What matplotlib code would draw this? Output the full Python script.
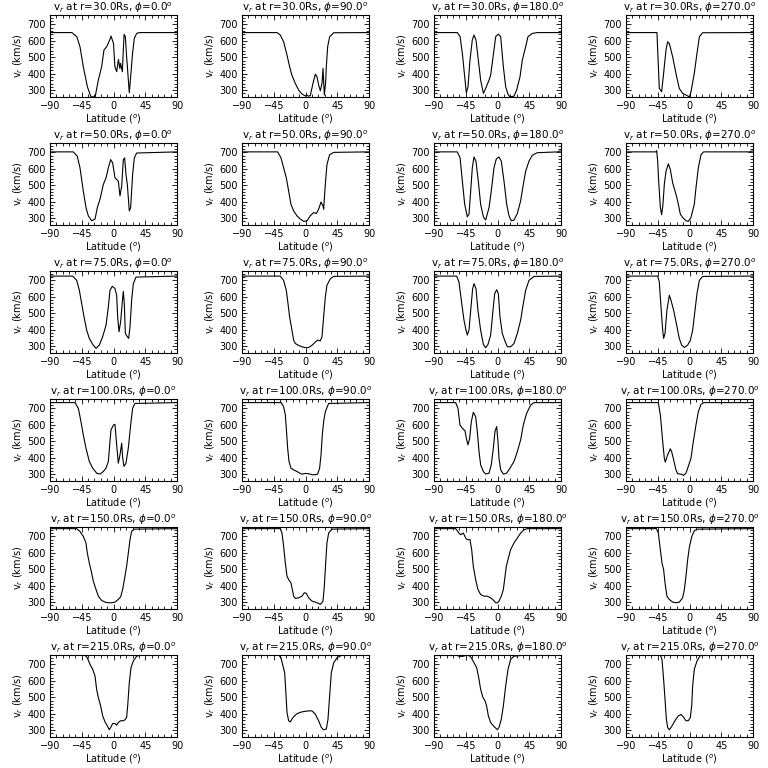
import matplotlib
matplotlib.use("Agg")
import matplotlib.pyplot as plt
from matplotlib.ticker import MultipleLocator, AutoMinorLocator

# ---------------- data ----------------
radii = [30.0, 50.0, 75.0, 100.0, 150.0, 215.0]
phis = [0.0, 90.0, 180.0, 270.0]
xticks = [-90, -45, 0, 45, 90]
yticks = [300, 400, 500, 600, 700]
ylim = (258, 757)

# r = 30 Rs
lat_r30_p0 = [-90, -59, -52, -47.5, -42.8, -37, -32, -26, -21.5, -16.8, -13.5, -9.7, -5, -3.5, 0, 2, 4.5, 7, 9, 10, 12.5, 15, 16.8, 18.6, 22.4, 24.3, 27, 29.5, 32.8, 36.6, 90]
v_r30_p0 = [650, 650, 625, 564, 442, 320, 259, 259, 361, 442, 544, 564, 609, 629, 584, 442, 412, 487, 432, 462, 412, 639, 625, 503, 284, 381, 523, 615, 645, 650, 650]
lat_r30_p90 = [-90, -40.4, -35.7, -31, -26.2, -22.5, -19.3, -14.5, -9.7, -5, 0, 2, 4, 6.8, 10.6, 14, 16.3, 18.6, 21, 23.4, 24.8, 26.7, 28.6, 29.5, 31.4, 34.2, 40, 90]
v_r30_p90 = [650, 650, 635, 594, 513, 442, 391, 341, 300, 276, 264, 270, 263, 266, 341, 397, 381, 331, 296, 341, 432, 270, 351, 442, 564, 625, 649, 650]
lat_r30_p180 = [-90, -56.9, -53, -49.8, -46.5, -44.2, -41.8, -39, -35.7, -33.3, -30.5, -27.2, -23.9, -20, -16.8, -12, -9.7, -5, -2.6, 1.2, 4.5, 8.3, 11.6, 14.9, 17.7, 23.4, 27.1, 31.9, 35.2, 39.9, 43.2, 49.3, 56.4, 90]
v_r30_p180 = [650, 650, 625, 523, 381, 284, 320, 483, 605, 635, 605, 483, 361, 280, 310, 361, 391, 544, 625, 641, 625, 442, 320, 274, 259, 263, 300, 381, 483, 564, 625, 645, 650, 650]
lat_r30_p270 = [-90, -46.1, -45.1, -42.8, -39.5, -36.7, -33.3, -31, -28.6, -23.9, -19.2, -14.5, -9.7, -5, 0, 2.1, 6.8, 10.6, 14, 18.6, 90]
v_r30_p270 = [650, 650, 544, 310, 290, 402, 544, 594, 584, 503, 402, 310, 280, 270, 259, 290, 402, 523, 625, 649, 650]

# r = 50 Rs
lat_r50_p0 = [-90, -57, -51.3, -47.5, -42.8, -39, -35.7, -31, -26.2, -22.9, -19.1, -14.4, -10.6, -7.3, -4, -1.2, 2.1, 4.5, 6.8, 9.2, 11.6, 13.9, 15.8, 17.7, 19.6, 22.4, 24.3, 27.1, 29.5, 32.8, 90]
v_r50_p0 = [703, 703, 676, 606, 465, 364, 314, 284, 294, 364, 415, 505, 545, 606, 656, 636, 545, 535, 525, 435, 495, 656, 666, 565, 505, 344, 364, 565, 666, 696, 703]
lat_r50_p90 = [-90, -39.5, -34.7, -31, -27.2, -23.9, -20.6, -16.8, -12.1, -7.3, -2.6, 2.1, 6.8, 11.6, 15.3, 18.6, 22, 24.8, 25.7, 28.1, 30.4, 34.2, 40, 90]
v_r50_p90 = [703, 703, 666, 606, 545, 465, 384, 344, 314, 294, 280, 284, 314, 334, 328, 354, 398, 374, 354, 505, 626, 686, 700, 703]
lat_r50_p180 = [-90, -57, -53, -49.8, -46.5, -42.8, -40.4, -38, -35.7, -33.3, -30.5, -27.2, -23.9, -20, -16.8, -12, -8.8, -5, -1.7, 2.1, 5.4, 9.2, 13, 16.3, 19.6, 23.4, 28.1, 32.8, 36.6, 39.9, 44.6, 49.3, 56.4, 86, 88, 90]
v_r50_p180 = [703, 703, 666, 525, 384, 308, 324, 465, 606, 672, 646, 525, 384, 308, 288, 364, 465, 606, 660, 672, 646, 525, 384, 314, 284, 288, 328, 405, 505, 585, 646, 682, 698, 703, 708, 708]
lat_r50_p270 = [-90, -47.5, -46.5, -45.1, -43.7, -41.3, -39.5, -37.6, -35.7, -33.3, -30, -27.2, -23.9, -19.2, -16.8, -13, -9.7, -5, -1.7, 2.1, 6.8, 9.2, 12.5, 16.3, 20, 86, 88, 90]
v_r50_p270 = [703, 703, 710, 646, 525, 364, 320, 384, 505, 585, 630, 596, 515, 445, 405, 324, 304, 284, 280, 304, 384, 485, 606, 686, 703, 703, 708, 708]

# r = 75 Rs
lat_r75_p0 = [-90, -57.9, -52.2, -48.4, -45.1, -41.8, -38, -34.3, -29.5, -24.8, -20.1, -15.4, -10.6, -7.3, -5, -1.7, 2.1, 4.5, 5.9, 7.8, 10.1, 12.5, 13.9, 15.3, 16.8, 19.6, 21.5, 23.4, 25.7, 28.1, 31.9, 90]
v_r75_p0 = [726, 726, 700, 639, 559, 478, 397, 347, 310, 286, 306, 357, 427, 538, 639, 664, 650, 609, 478, 387, 448, 569, 633, 559, 377, 357, 347, 417, 579, 680, 720, 726]
lat_r75_p90 = [-90, -35.7, -31, -27.2, -24.8, -22.5, -19.2, -16.8, -14.5, -9.7, -5, 0, 4.7, 9.5, 14.2, 17.2, 21, 23.4, 25.7, 28.1, 30.4, 35.2, 40, 90]
v_r75_p90 = [726, 726, 700, 639, 559, 478, 397, 336, 316, 304, 296, 290, 292, 306, 326, 336, 332, 357, 478, 599, 670, 710, 724, 726]
lat_r75_p180 = [-90, -57.9, -54.6, -51.3, -47.5, -45.1, -42.8, -40.4, -38, -35.2, -33.3, -30.5, -27.7, -23.9, -20, -16.8, -13.5, -9.7, -6.4, -4, -1.2, 1.2, 3.5, 6.8, 10.1, 13.9, 18.6, 23.4, 28.1, 32.8, 36.6, 39.9, 44.6, 51.7, 90]
v_r75_p180 = [726, 726, 690, 579, 458, 407, 367, 397, 518, 650, 680, 650, 518, 397, 310, 290, 310, 367, 518, 619, 643, 619, 478, 377, 336, 296, 296, 316, 377, 458, 559, 639, 700, 724, 726]
lat_r75_p270 = [-90, -45.1, -42.8, -40.4, -38, -36.7, -34.7, -32, -28.6, -26.2, -22.5, -20.6, -17.7, -14.5, -11.1, -7.3, -2.6, 1.2, 4.5, 7.8, 10.6, 14, 18.6, 90]
v_r75_p270 = [726, 726, 690, 538, 397, 347, 377, 518, 609, 579, 518, 478, 417, 347, 306, 292, 306, 336, 397, 518, 619, 700, 724, 726]

# r = 100 Rs
lat_r100_p0 = [-90, -54.6, -49.8, -46.1, -42.8, -39, -34.3, -29.5, -23.9, -19.1, -14.4, -10.6, -7.3, -5, -3.6, 0, 2.1, 4.5, 6.8, 9.2, 11.6, 13, 14.9, 17.7, 21, 24.3, 27.1, 30.4, 90]
v_r100_p0 = [735, 735, 700, 619, 538, 458, 377, 336, 306, 300, 316, 336, 377, 498, 569, 599, 603, 478, 367, 417, 488, 397, 347, 367, 458, 599, 700, 730, 735]
lat_r100_p90 = [-90, -34.3, -31, -28.6, -27.2, -25.3, -23.4, -20.6, -16.8, -12.1, -8.3, -5, 0, 4.7, 9.5, 14.2, 17.2, 20, 22, 23.8, 25.7, 28.1, 32.8, 90]
v_r100_p90 = [735, 735, 710, 660, 579, 458, 377, 336, 326, 316, 306, 300, 304, 302, 296, 296, 300, 336, 417, 538, 619, 680, 730, 735]
lat_r100_p180 = [-90, -59.3, -56, -53.2, -49.8, -46.1, -43.7, -41.8, -39.5, -37.1, -34.3, -31, -28.6, -26.2, -23.9, -20.1, -16.8, -12, -8.8, -5.9, -3.6, -1.2, 0.7, 2.1, 4.5, 8.3, 13, 17.7, 23.4, 28.1, 32.8, 36.6, 41.3, 47, 51.7, 90]
v_r100_p180 = [735, 735, 700, 599, 579, 563, 508, 478, 518, 619, 676, 650, 559, 437, 357, 316, 300, 306, 357, 458, 559, 589, 498, 397, 326, 300, 306, 336, 377, 437, 508, 599, 670, 720, 735, 735]
lat_r100_p270 = [-90, -44.2, -41.3, -38, -35.7, -34.3, -31, -27.2, -25.3, -22.5, -19.2, -16.8, -12.1, -8.3, -5, -1.7, 2.1, 5.4, 9.2, 12.5, 16.3, 20, 90]
v_r100_p270 = [735, 735, 660, 498, 397, 373, 417, 454, 437, 387, 326, 302, 300, 292, 306, 347, 397, 498, 599, 680, 724, 735, 735]

# r = 150 Rs
lat_r150_p0 = [-90, -52.2, -47.5, -42.8, -39, -37.1, -34.3, -31, -28.6, -24.8, -21.5, -16.8, -12, -7.3, -2.6, 2.1, 6.8, 10.1, 13, 16.3, 18.6, 21, 23.4, 25.7, 29, 90]
v_r150_p0 = [747, 747, 730, 700, 660, 599, 538, 478, 427, 377, 336, 310, 300, 296, 296, 300, 316, 332, 377, 458, 518, 599, 680, 730, 744, 747]
lat_r150_p90 = [-90, -35.7, -33.3, -31, -28.6, -26.2, -23.9, -20.6, -18.7, -16.8, -14.4, -9.7, -5, -1.7, 1.2, 4.5, 9.2, 13.9, 18.6, 21, 24.8, 26.7, 28.6, 30.4, 32.8, 37.5, 90]
v_r150_p90 = [747, 747, 720, 639, 538, 458, 437, 417, 377, 336, 322, 326, 336, 357, 353, 326, 306, 300, 292, 286, 306, 397, 538, 660, 720, 744, 747]
lat_r150_p180 = [-90, -59.3, -54.6, -52.2, -48.4, -45.1, -42.8, -39, -36.6, -34.3, -31, -27.7, -23.9, -19.1, -14.4, -9.7, -5.9, -2.6, 0, 2.1, 5.4, 8.3, 10.1, 12.5, 14.9, 18.6, 23.4, 28.1, 32.8, 37.5, 42.3, 90]
v_r150_p180 = [747, 747, 720, 710, 720, 690, 680, 680, 619, 518, 437, 377, 346, 336, 336, 326, 312, 296, 296, 306, 336, 377, 437, 518, 559, 619, 660, 690, 720, 740, 747, 747]
lat_r150_p270 = [-90, -48.5, -47.5, -44.2, -41.3, -39, -36.7, -34.7, -32, -28.6, -23.9, -19.1, -14.4, -9.7, -7.3, -5, -2.6, 0, 3.3, 7.1, 11.6, 90]
v_r150_p270 = [747, 747, 752, 720, 619, 538, 498, 417, 336, 316, 300, 296, 300, 326, 377, 458, 559, 639, 700, 736, 744, 747]

# r = 215 Rs
lat_r215_p0 = [-90, -40.4, -37.1, -33.3, -29.5, -26.2, -23.9, -21.5, -18.2, -15.4, -12, -8.8, -5.9, -4, -1.2, 2.1, 4.5, 6.8, 10.1, 13.9, 16.3, 18.6, 20.1, 22.4, 24.8, 28.1, 32.8, 37.5, 90]
v_r215_p0 = [756, 756, 740, 700, 670, 629, 548, 498, 447, 387, 350, 326, 302, 316, 340, 340, 330, 346, 357, 357, 363, 377, 447, 589, 680, 720, 750, 756, 756]
lat_r215_p90 = [-90, -38, -34.7, -31.9, -29.5, -28.1, -26.2, -23.9, -21.5, -17.7, -13, -8.3, -2.6, 4.5, 9.2, 13.9, 18.6, 22.4, 25.7, 29.5, 31.9, 34.2, 36.6, 40, 44.6, 51.7, 90]
v_r215_p90 = [756, 756, 740, 690, 649, 548, 407, 357, 350, 377, 397, 407, 413, 417, 417, 397, 357, 316, 302, 306, 367, 508, 649, 710, 740, 756, 756]
lat_r215_p180 = [-90, -57, -54.6, -49.8, -45, -40.4, -37.1, -33.3, -29.5, -26.2, -23.9, -20.6, -17.7, -15.4, -13, -9.7, -5, 0, 2.1, 5.4, 8.3, 11.6, 14.9, 18.6, 23.4, 32.8, 44.6, 90]
v_r215_p180 = [754, 754, 750, 748, 754, 754, 740, 710, 680, 609, 548, 498, 478, 447, 387, 346, 322, 302, 316, 367, 447, 569, 670, 730, 750, 754, 756, 756]
lat_r215_p270 = [-90, -41.3, -39, -36.7, -34.7, -32.8, -31, -28.6, -25.3, -20.6, -15.8, -12.1, -8.8, -5, -1.7, 1.2, 3.1, 4.5, 6.8, 10.6, 15.3, 90]
v_r215_p270 = [756, 756, 730, 609, 488, 367, 316, 302, 322, 357, 387, 395, 381, 357, 357, 377, 447, 569, 670, 720, 754, 756]

grid_lat = [
    [lat_r30_p0, lat_r30_p90, lat_r30_p180, lat_r30_p270],
    [lat_r50_p0, lat_r50_p90, lat_r50_p180, lat_r50_p270],
    [lat_r75_p0, lat_r75_p90, lat_r75_p180, lat_r75_p270],
    [lat_r100_p0, lat_r100_p90, lat_r100_p180, lat_r100_p270],
    [lat_r150_p0, lat_r150_p90, lat_r150_p180, lat_r150_p270],
    [lat_r215_p0, lat_r215_p90, lat_r215_p180, lat_r215_p270],
]
grid_v = [
    [v_r30_p0, v_r30_p90, v_r30_p180, v_r30_p270],
    [v_r50_p0, v_r50_p90, v_r50_p180, v_r50_p270],
    [v_r75_p0, v_r75_p90, v_r75_p180, v_r75_p270],
    [v_r100_p0, v_r100_p90, v_r100_p180, v_r100_p270],
    [v_r150_p0, v_r150_p90, v_r150_p180, v_r150_p270],
    [v_r215_p0, v_r215_p90, v_r215_p180, v_r215_p270],
]

# ---------------- plot ----------------
plt.rcParams['font.family'] = ['DejaVu Sans']
plt.rcParams['mathtext.fontset'] = 'dejavusans'
W = 768.0
fig = plt.figure(figsize=(7.68, 7.68), dpi=100)
fig.patch.set_facecolor('white')

col_left = [50, 242, 434, 626]
row_top = [15, 143, 271, 399, 527, 655]
aw, ah = 127, 82

for i, r in enumerate(radii):
    for j, ph in enumerate(phis):
        ax = fig.add_axes([col_left[j] / W, 1 - (row_top[i] + ah) / W, aw / W, ah / W])
        ax.plot(grid_lat[i][j], grid_v[i][j], color='black', lw=0.8)
        ax.set_xlim(-90, 90)
        ax.set_ylim(*ylim)
        ax.set_xticks(xticks)
        ax.set_yticks(yticks)
        ax.xaxis.set_minor_locator(MultipleLocator(9))
        ax.yaxis.set_minor_locator(MultipleLocator(20))
        ax.tick_params(which='both', direction='in', top=True, right=True,
                       labelsize=7, width=0.6, pad=3)
        ax.tick_params(which='major', length=3.5)
        ax.tick_params(which='minor', length=2)
        for s in ax.spines.values():
            s.set_linewidth(0.8)
        ax.set_title(r'v$_r$ at r=%.1fRs, $\phi$=%.1f$^o$' % (r, ph), fontsize=7.5, pad=2)
        ax.set_xlabel(r'Latitude ($^o$)', fontsize=7, labelpad=1)
        ax.set_ylabel(r'v$_r$ (km/s)', fontsize=7, labelpad=2)

fig.savefig('out.png', dpi=100, facecolor='white')
